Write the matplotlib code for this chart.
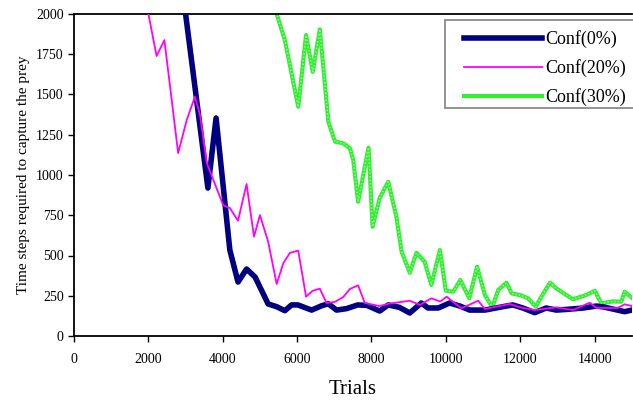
import matplotlib.pyplot as plt
from matplotlib.patches import Rectangle

# Conf(0%)
x0 = [2800, 3000, 3600, 3820, 4190, 4410, 4640, 4870, 5220, 5450, 5670, 5850, 6020,
      6390, 6660, 6840, 7060, 7330, 7630, 7880, 8220, 8450, 8750, 9030, 9340, 9520,
      9800, 10100, 10380, 10640, 11050, 11530, 11800, 12070, 12390, 12700, 12970,
      13240, 13700, 14050, 14250, 14810, 15000]
y0 = [2400, 2000, 919, 1354, 534, 335, 416, 366, 199, 182, 157, 193, 193,
      161, 188, 200, 161, 170, 193, 190, 155, 193, 178, 143, 205, 174,
      174, 205, 186, 161, 161, 182, 193, 174, 145, 174, 161,
      165, 174, 186, 180, 151, 161]

# Conf(20%)
x20 = [1800, 2000, 2220, 2430, 2800, 3030, 3250, 3390, 3570, 4010, 4190, 4410, 4640,
       4840, 5000, 5220, 5450, 5630, 5810, 6030, 6240, 6420, 6610, 6790, 7020, 7240,
       7420, 7640, 7820, 8220, 8450, 9030, 9300, 9610, 9850, 10020, 10420, 10870,
       11050, 11260, 11720, 11990, 12390, 12970, 13420, 13870, 14050, 14620, 14810, 15000]
y20 = [2300, 2000, 1739, 1838, 1136, 1341, 1486, 1372, 1074, 813, 795, 716, 944,
       617, 751, 586, 323, 453, 517, 530, 244, 281, 294, 205, 212, 242,
       292, 315, 205, 186, 200, 219, 193, 234, 214, 244, 172, 219,
       168, 178, 199, 178, 161, 178, 161, 207, 174, 174, 197, 186]

# Conf(30%)
x30 = [5200, 5450, 5670, 6030, 6240, 6420, 6610, 6840, 7020, 7240, 7420, 7510, 7640,
       7920, 8030, 8220, 8450, 8670, 8810, 9030, 9210, 9430, 9610, 9840, 10000, 10200,
       10390, 10630, 10840, 11050, 11250, 11410, 11630, 11770, 12030, 12210, 12420,
       12570, 12800, 12970, 13420, 13780, 14010, 14180, 14490, 14720, 14810, 15000]
y30 = [2250, 2000, 1838, 1424, 1869, 1641, 1904, 1331, 1207, 1197, 1166, 1093, 834,
       1170, 679, 857, 958, 741, 524, 393, 517, 461, 317, 534, 281, 275,
       348, 234, 430, 255, 178, 286, 331, 265, 252, 234, 182,
       244, 331, 296, 228, 255, 281, 203, 215, 213, 275, 238]

plt.rcParams['font.family'] = ['Liberation Serif', 'DejaVu Serif']

fig = plt.figure(figsize=(6.33, 4.0), dpi=100)
ax = fig.add_axes([0.117, 0.16, 0.881, 0.805])

ax.plot(x0, y0, color='#000080', lw=4.0, solid_joinstyle='round', label='Conf(0%)', zorder=3)
ax.plot(x20, y20, color='#ff00ff', lw=1.3, label='Conf(20%)', zorder=4)
# green line has a checkered texture: base line plus a lighter dotted overlay
ax.plot(x30, y30, color='#33ee33', lw=3.0, label='Conf(30%)', zorder=2)
ax.plot(x30, y30, color='#99ff99', lw=1.0, ls=(0, (1, 1.5)), zorder=2)

ax.set_xlim(0, 15000)
ax.set_ylim(0, 2000)
ax.set_xticks(range(0, 15000, 2000))
ax.set_yticks(range(0, 2001, 250))
ax.tick_params(direction='out', length=4, labelsize=10, width=1)
ax.tick_params(axis='x', pad=8)

ax.spines['right'].set_visible(False)
for s in ['left', 'bottom', 'top']:
    ax.spines[s].set_linewidth(1.3)

ax.set_xlabel('Trials', fontsize=15, labelpad=10)
ax.set_ylabel('Time steps required to capture the prey', fontsize=11)

# legend box drawn by hand so the padding matches the original
box = Rectangle((0.703, 0.73), 0.31, 0.22, transform=fig.transFigure, facecolor='white',
                edgecolor='#808080', lw=1.2, clip_on=False, zorder=5)
ax.add_patch(box)
leg = ax.legend(loc='upper left', bbox_to_anchor=(0.699, 0.950), fontsize=13,
                frameon=False, handlelength=4.3, borderpad=0, labelspacing=0.62,
                handletextpad=0.2, borderaxespad=0)
leg.set_zorder(6)

plt.savefig('out.png', dpi=100)
